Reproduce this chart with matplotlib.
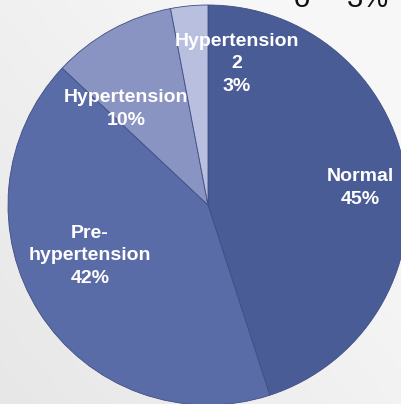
import numpy as np
import matplotlib
matplotlib.use("Agg")
import matplotlib.pyplot as plt

# Blood pressure categories, clockwise from 12 o'clock
categories = ["Normal", "Pre-\nhypertension", "Hypertension", "Hypertension\n2"]
shares = [45, 42, 10, 3]
colors = ["#4a5c95", "#5a6ca8", "#8a94c3", "#b9bfdf"]

# where each label sits (data coords of the unit pie)
label_xy = [(0.76, 0.085), (-0.59, -0.255), (-0.41, 0.48), (0.145, 0.705)]

fig = plt.figure(figsize=(4.02, 4.04), dpi=100)

# soft grey backdrop, lighter to the upper right
bg = fig.add_axes([0, 0, 1, 1])
yy, xx = np.mgrid[0:1:200j, 0:1:200j]
shade = 0.89 + 0.08 * np.clip(0.55 * xx + 0.45 * yy + 0.2, 0, 1)
bg.imshow(np.dstack([shade, shade, shade]), extent=[0, 1, 0, 1],
          origin="lower", aspect="auto")
bg.axis("off")

ax = fig.add_axes([8 / 402, -1 / 404, 400 / 402, 400 / 404])
ax.pie(shares, colors=colors, startangle=90, counterclock=False,
       wedgeprops=dict(edgecolor="#3f4d82", linewidth=0.6))
ax.set_xlim(-1, 1)
ax.set_ylim(-1, 1)
ax.set_aspect("equal")
ax.axis("off")

for name, val, (x, y) in zip(categories, shares, label_xy):
    ax.text(x, y, f"{name}\n{val}%", ha="center", va="center",
            color="white", fontsize=14, fontweight="bold",
            family="Liberation Sans", linespacing=1.4)

# bullet line running off the top edge
fig.text(294 / 402, 1 - 7 / 404, "o", fontsize=21, family="Liberation Sans",
         color="#111111", va="baseline", ha="left")
fig.text(347 / 402, 1 - 7 / 404, "3%", fontsize=21, family="Liberation Sans",
         color="#111111", va="baseline", ha="left")

fig.savefig("out.png", dpi=100)
